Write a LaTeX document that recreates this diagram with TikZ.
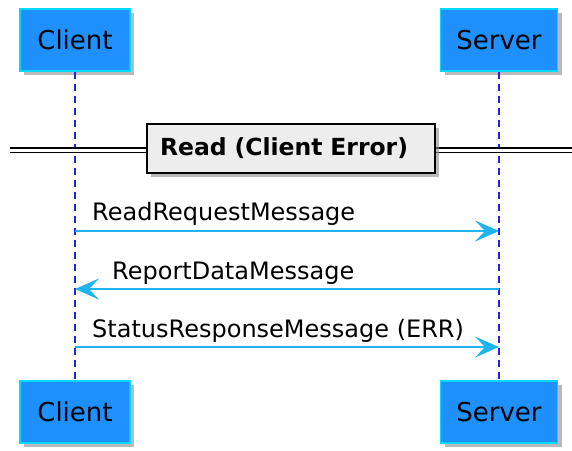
\documentclass[tikz,border=0pt]{standalone}
\usepackage{fontspec}
\setmainfont{DejaVu Sans}
\usetikzlibrary{arrows.meta,shadows}
\definecolor{partfill}{HTML}{1E90FF}
\definecolor{partline}{HTML}{00D8FF}
\definecolor{lifeblue}{HTML}{2222EE}
\definecolor{msgblue}{HTML}{1EB4F0}
\begin{document}
\begin{tikzpicture}[x=1pt, y=-1pt,
    part/.style={rectangle, draw=partline, line width=1.2pt, fill=partfill, minimum height=62pt, font=\fontsize{26}{30}\selectfont,
        drop shadow={shadow xshift=4pt, shadow yshift=-4pt, fill=black!45, opacity=.6}},
    life/.style={draw=lifeblue, line width=1.5pt, dash pattern=on 7pt off 5pt},
    msg/.style={draw=msgblue, line width=1.5pt, -{Stealth[length=24pt, width=21pt, inset=10pt]}},
    lbl/.style={anchor=base west, inner sep=0pt, font=\fontsize{24}{28}\selectfont},
    divbox/.style={rectangle, draw=black, line width=2pt, fill=black!7, minimum width=288pt, minimum height=49pt,
        text width=262pt, inner xsep=13pt, align=left, font=\bfseries\fontsize{23.5}{27}\selectfont,
        drop shadow={shadow xshift=4pt, shadow yshift=-4pt, fill=black!45, opacity=.6}},
    divline/.style={draw=black, line width=1.5pt, double=white, double distance=3pt}
]
\useasboundingbox (0,0) rectangle (572,450);

% Participants
\node[part, minimum width=110pt] (clientTop) at (75,40) {Client};
\node[part, minimum width=117pt] (serverTop) at (499,40) {Server};
\node[part, minimum width=110pt] (clientBot) at (75,412) {Client};
\node[part, minimum width=117pt] (serverBot) at (499,412) {Server};

% Lifelines
\draw[life] (clientTop) -- (clientBot);
\draw[life] (serverTop) -- (serverBot);

% Divider
\coordinate (divL) at (10,150);
\coordinate (divR) at (572,150);
\draw[divline] (divL) -- (divR);
\node[divbox] (div) at (291,148.5) {Read (Client Error)};

% Messages
\coordinate (req-c) at (75,231);
\coordinate (req-s) at (499,231);
\coordinate (rep-c) at (75,289);
\coordinate (rep-s) at (499,289);
\coordinate (sta-c) at (75,347);
\coordinate (sta-s) at (499,347);
\draw[msg] (req-c) -- (req-s);
\draw[msg] (rep-s) -- (rep-c);
\draw[msg] (sta-c) -- (sta-s);
\node[lbl] (reqLbl) at (92,220) {ReadRequestMessage};
\node[lbl] (repLbl) at (112,279) {ReportDataMessage};
\node[lbl] (staLbl) at (92,337) {StatusResponseMessage (ERR)};
\end{tikzpicture}
\end{document}
